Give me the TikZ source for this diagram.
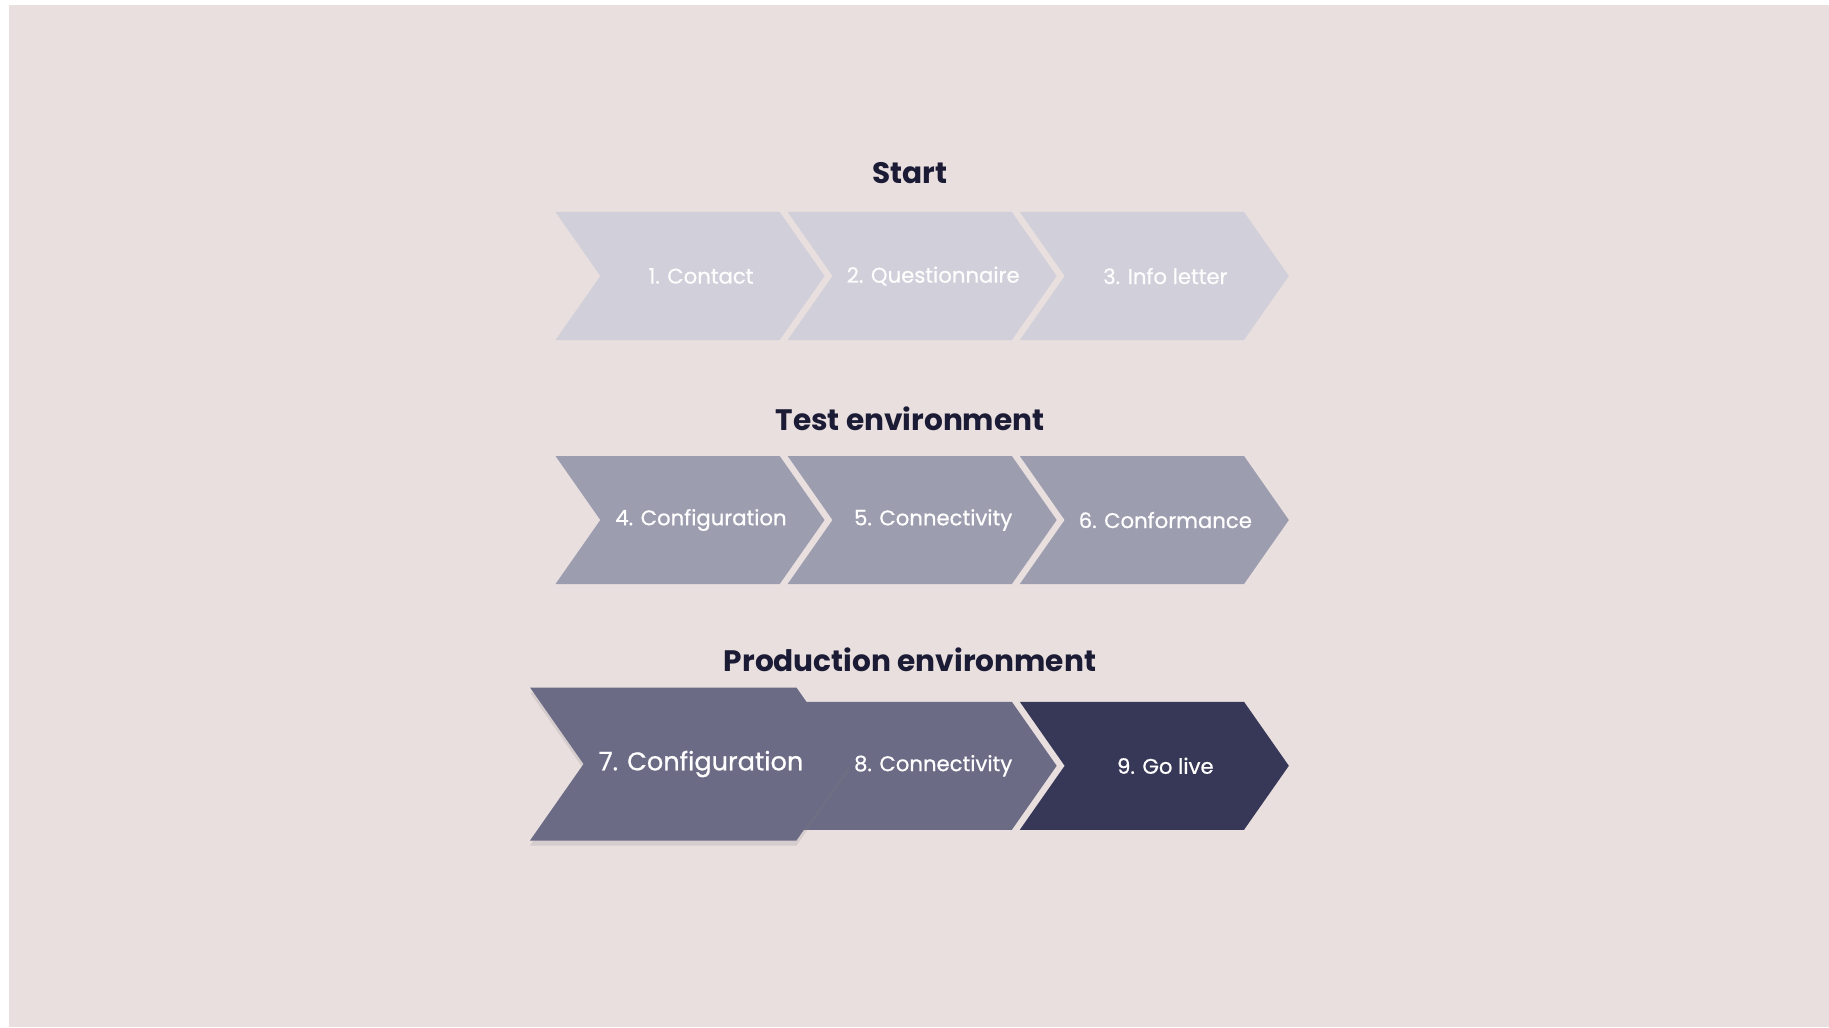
\documentclass[tikz,border=0pt]{standalone}
\usepackage{fontspec}
\setmainfont{Poppins}
\newfontfamily\chevfont[FakeBold=0.7]{Poppins}
\usetikzlibrary{positioning,shapes.symbols,shadows}

\begin{document}
\begin{tikzpicture}[
        x=0.5pt, y=-0.5pt,
        node distance=3.5pt,
    ]

    \tikzstyle{chevron} = [signal, signal from=west, signal to=east,
                           signal pointer angle=110, minimum width=134.5pt,
                           minimum height=64pt, inner sep=0pt,
                           text=white, font=\chevfont\fontsize{10.6}{12}\selectfont,
                           execute at begin node={\hbox to 0pt\bgroup\hss\hspace*{11pt}},
                           execute at end node={\hss\egroup}];
    \tikzstyle{phase} = [text=titlenavy, font=\bfseries\fontsize{14.8}{17}\selectfont];

    \definecolor{pagebg}{RGB}{232,223,222}
    \definecolor{titlenavy}{RGB}{27,27,53}
    \definecolor{startgrey}{RGB}{209,208,218}
    \definecolor{testgrey}{RGB}{157,157,176}
    \definecolor{prodgrey}{RGB}{107,107,133}
    \definecolor{livenavy}{RGB}{55,55,88}

    % Page
    \fill[white] (0,0) rectangle (1829,1027);
    \fill[pagebg] (9,5) rectangle (1829,1027);

    % Start
    \node[phase] (start) at (910,173) {Start};
    \node[chevron, fill=startgrey, text=white!95!startgrey] (contact) at (690,276) {1. Contact};
    \node[chevron, fill=startgrey, text=white!95!startgrey, right=of contact] (questionnaire) {2. Questionnaire};
    \node[chevron, fill=startgrey, text=white!95!startgrey, right=of questionnaire] (infoletter) {3. Info letter};

    % Test environment
    \node[phase] (test) at (910,419) {Test environment};
    \node[chevron, fill=testgrey] (testconfig) at (690,520) {4. Configuration};
    \node[chevron, fill=testgrey, right=of testconfig] (testconn) {5. Connectivity};
    \node[chevron, fill=testgrey, right=of testconn] (conformance) {6. Conformance};

    % Production environment
    \node[phase] (prod) at (910,660) {Production environment};
    \node[chevron, fill=prodgrey, below=58.5pt of testconn] (prodconn) {8. Connectivity};
    \node[chevron, fill=livenavy, right=of prodconn] (golive) {9. Go live};
    \node[chevron, fill=prodgrey, minimum width=160pt, minimum height=76.5pt,
          font=\chevfont\fontsize{12.8}{14}\selectfont,
          drop shadow={opacity=0.18, shadow xshift=0pt, shadow yshift=-2.5pt}]
          (prodconfig) at (690,764) {7. Configuration};

\end{tikzpicture}
\end{document}
